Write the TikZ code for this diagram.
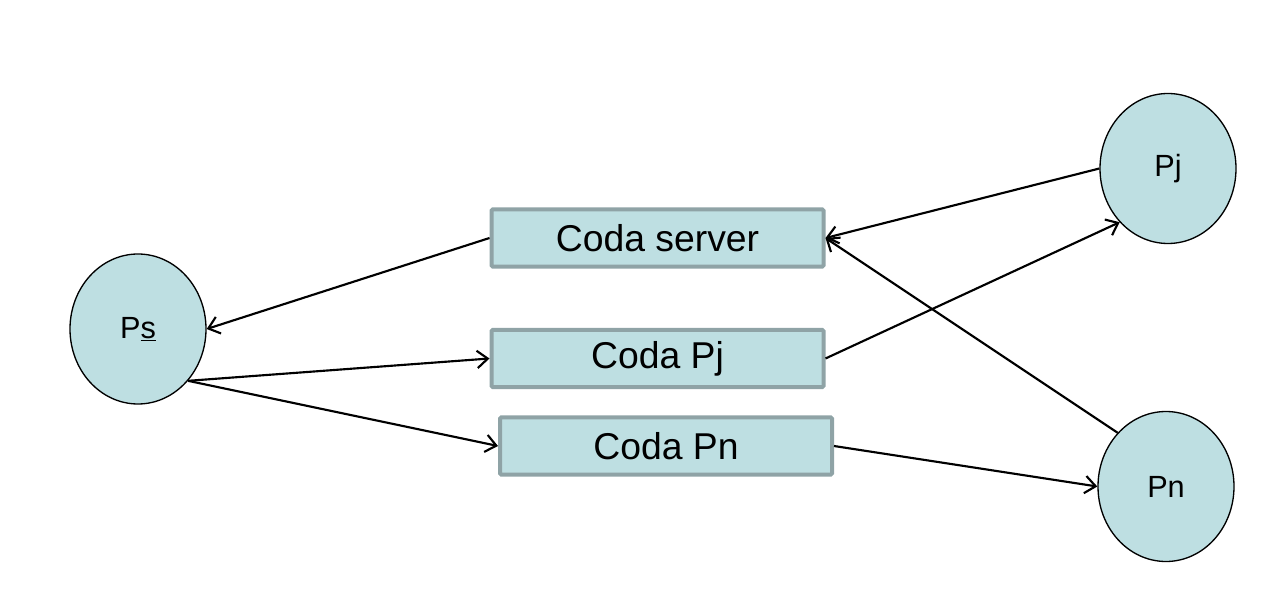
\documentclass[tikz,border=0pt]{standalone}
\usepackage{fontspec}
\setmainfont{Liberation Sans}
\usetikzlibrary{arrows.meta,shapes.geometric}
\definecolor{cfill}{HTML}{BEDFE2}
\definecolor{cborder}{HTML}{8FA3A6}
\begin{document}
\begin{tikzpicture}[x=0.75pt,y=-0.75pt,
  proc/.style={ellipse,draw=black,line width=1pt,fill=cfill,minimum width=102pt,minimum height=112.5pt,inner sep=0pt,font=\fontsize{23}{27}\selectfont},
  codabox/.style={rectangle,draw=cborder,line width=3pt,fill=cfill,rounded corners=1pt,minimum width=249pt,minimum height=43pt,inner sep=0pt,font=\fontsize{28}{32}\selectfont},
  conn/.style={line width=1.6pt,-{Straight Barb[length=8pt,width=13pt,line width=1.6pt]}}]
\useasboundingbox (0,0) rectangle (1282,602);
\node[codabox] (cs) at (657.5,238) {Coda server};
\node[codabox] (cpj) at (657.5,358.5) {Coda Pj};
\node[codabox] (cpn) at (666,446) {Coda Pn};
\node[proc] (ps) at (138,329) {P\underline{s}};
\node[proc] (pj) at (1168,168.5) {Pj};
\node[proc] (pn) at (1166,486.5) {Pn};
\draw[conn] (cs.west) -- (ps.east);
\draw[conn] (ps.-46) -- (cpj.west);
\draw[conn] (ps.-46) -- (cpn.west);
\draw[conn] (cpj.east) -- (pj.228);
\draw[conn] (pj.west) -- (cs.east);
\draw[conn] (pn.132) -- (cs.east);
\draw[conn] (cpn.east) -- (pn.west);
\end{tikzpicture}
\end{document}
